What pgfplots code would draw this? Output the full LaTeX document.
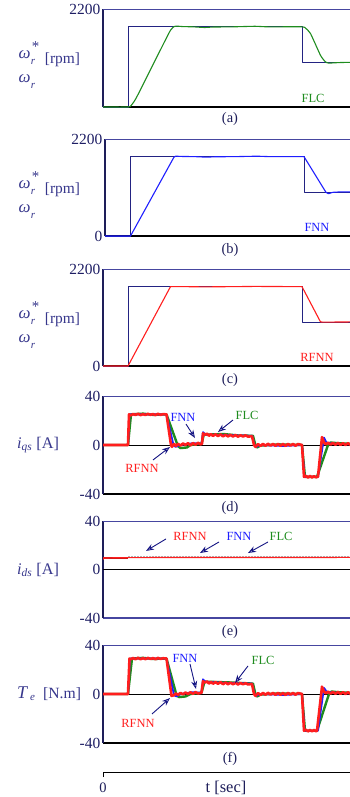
\documentclass[border=0pt]{standalone}
\usepackage{pgfplots}
\pgfplotsset{compat=1.18}
\usepackage{fontspec}
\setmainfont{Liberation Serif}
\usetikzlibrary{arrows.meta}
\definecolor{refnavy}{RGB}{35,35,130}
\definecolor{frametop}{RGB}{70,70,160}
\definecolor{ticknavy}{RGB}{30,30,100}
\definecolor{labnavy}{RGB}{55,55,140}
\definecolor{capnavy}{RGB}{30,30,90}
\definecolor{cgreen}{RGB}{30,140,30}
\definecolor{cblue}{RGB}{30,30,255}
\definecolor{cred}{RGB}{255,30,30}
\definecolor{arrnavy}{RGB}{20,20,130}
\pgfplotsset{
  panel/.style={scale only axis, width=250bp, height=98bp, xmin=0, xmax=5,
    axis x line*=bottom, axis y line*=left, xtick=\empty,
    major tick length=0pt, ytick style={draw=none},
    x axis line style={black, line width=1.3bp, -},
    y axis line style={capnavy, line width=1.3bp, -},
    tick label style={font=\fontsize{15.5}{15.5}\selectfont, text=ticknavy},
    yticklabel style={inner sep=2.5bp},
    /pgf/number format/assume math mode=true,
    /pgf/number format/1000 sep={},
    every axis plot/.append style={line join=round},
  },
}
\tikzset{
  ann/.style={font=\fontsize{12.5}{12.5}\selectfont},
  arr/.style={arrnavy, line width=0.9bp, -{Stealth[length=8bp,width=6bp,open]}},
  lab/.style={text=labnavy, inner sep=0pt},
}
\newcommand{\toplinedraw}{\draw[frametop, line width=1bp] (rel axis cs:0,1) -- (rel axis cs:1,1);}
\begin{document}
\begin{tikzpicture}
\useasboundingbox (0,0) rectangle (350bp,-797bp);
% ---------- (a)
\begin{axis}[panel, at={(103bp,-9bp)}, anchor=north west, ymin=0, ymax=2200, ytick={2200}]
\toplinedraw
\addplot[refnavy, line width=0.8bp] coordinates {(0,0)(0.5,0)(0.5,1800)(3.98,1800)(3.98,1000)(5,1000)};
\addplot[cgreen, line width=1.1bp, smooth, tension=0.3] coordinates {(0,0)(0.5,0)(0.56,30)(0.62,120)(0.7,280)(1.3,1620)(1.37,1750)(1.42,1805)(1.48,1815)(1.6,1805)(1.8,1800)(2.03,1785)(2.2,1795)(2.6,1800)(3.04,1812)(3.3,1800)(3.98,1800)(4.05,1770)(4.15,1650)(4.35,1160)(4.45,1010)(4.52,985)(4.62,992)(4.8,1000)(5,1000)};
\node[ann, text=cgreen] at (axis cs:4.2,200) {FLC};
\end{axis}
% ---------- (b)
\begin{axis}[panel, at={(105bp,-139bp)}, anchor=north west, height=97bp, ymin=0, ymax=2200, ytick={0,2200}]
\toplinedraw
\addplot[refnavy, line width=0.8bp] coordinates {(0,0)(0.51,0)(0.51,1800)(3.98,1800)(3.98,1000)(5,1000)};
\addplot[cblue, line width=1.1bp] coordinates {(0,0)(0.51,0)(1.38,1790)(1.42,1812)(1.5,1805)(1.8,1800)(2.03,1788)(2.2,1797)(2.6,1800)(3.04,1810)(3.3,1800)(3.98,1800)(4.42,990)(4.47,960)(4.55,990)(4.7,1000)(5,1000)};
\node[ann, text=cblue] at (axis cs:4.24,200) {FNN};
\end{axis}
% ---------- (c)
\begin{axis}[panel, at={(103bp,-269bp)}, anchor=north west, height=97bp, ymin=0, ymax=2200, ytick={0,2200}]
\toplinedraw
\addplot[refnavy, line width=0.8bp] coordinates {(0,0)(0.5,0)(0.5,1800)(3.98,1800)(3.98,1000)(5,1000)};
\addplot[cred, line width=1.1bp] coordinates {(0,0)(0.5,0)(1.35,1800)(1.6,1800)(2.03,1795)(2.6,1800)(3.04,1805)(3.98,1800)(4.35,1000)(4.4,995)(5,1000)};
\node[ann, text=cred] at (axis cs:4.28,200) {RFNN};
\end{axis}
% ---------- (d)
\begin{axis}[panel, at={(103bp,-396bp)}, anchor=north west, ymin=-40, ymax=40, ytick={-40,0,40}]
\toplinedraw
\addplot[black, line width=1bp] coordinates {(0,0)(5,0)};
\addplot[cgreen, line width=2.4bp] coordinates {(0,0)(0.5,0)(0.56,25)(0.8,25.6)(1.0,24.6)(1.27,25)(1.5,-1)(1.55,-2.5)(1.68,-2)(1.75,0)(1.97,1)(2.02,9)(2.1,8.5)(2.4,9)(2.7,7.8)(3.0,7.5)(3.05,-0.5)(3.08,-2)(3.15,-0.5)(3.5,0.5)(3.98,0)(4.04,-26)(4.28,-26)(4.5,0)(4.55,2)(4.7,1.5)(5,0.8)};
\addplot[cblue, line width=1.8bp] coordinates {(0,0)(0.5,0)(0.53,25)(1.27,25)(1.41,0)(1.45,-1.5)(1.55,0)(1.8,1.5)(1.97,1)(2.0,10.5)(2.05,8.5)(2.5,8)(2.98,7.5)(3.03,0)(3.06,-1.5)(3.15,0)(3.6,-0.8)(3.98,0)(4.03,-26)(4.3,-26)(4.42,6)(4.47,2)(4.6,1)(5,0.5)};
\addplot[cred, line width=2.6bp] coordinates {(0,0)(0.5,0)(0.52,25)(0.56,24.2)(0.6,25.3)(0.65,24.5)(0.7,25.6)(0.75,24.4)(0.8,25.2)(0.85,24.5)(0.9,25.5)(0.95,24.6)(1.0,25.3)(1.05,24.4)(1.1,25.5)(1.15,24.6)(1.2,25.2)(1.27,25)(1.36,0)(1.38,-1.5)(1.42,0.8)(1.46,-0.8)(1.5,1)(1.55,-0.5)(1.6,1.3)(1.65,0)(1.7,1.5)(1.75,-0.3)(1.8,1.6)(1.85,0.2)(1.9,1.8)(1.95,0.5)(1.98,1)(2.0,9.5)(2.04,8.3)(2.08,9.3)(2.12,7.5)(2.16,8.9)(2.2,7.4)(2.25,8.8)(2.3,7.3)(2.35,8.7)(2.4,7)(2.45,8.4)(2.5,7)(2.55,8.3)(2.6,6.9)(2.65,8.2)(2.7,6.8)(2.75,8)(2.8,6.9)(2.85,7.9)(2.9,6.8)(2.98,7.2)(3.02,0)(3.05,-1.5)(3.1,0.8)(3.15,-0.8)(3.2,0.9)(3.25,-0.6)(3.3,1)(3.35,-0.5)(3.4,0.9)(3.45,-0.7)(3.5,1)(3.55,-0.6)(3.6,0.8)(3.65,-0.8)(3.7,0.9)(3.75,-0.5)(3.8,0.9)(3.85,-0.6)(3.9,0.8)(3.98,0)(4.02,-26)(4.06,-25.2)(4.1,-26.6)(4.14,-25.3)(4.18,-26.5)(4.22,-25.4)(4.26,-26.4)(4.3,-25.8)(4.38,6.5)(4.42,2)(4.46,0.5)(4.5,2)(4.55,0.3)(4.6,1.8)(4.65,0.2)(4.7,1.7)(4.75,0.1)(4.8,1.5)(4.85,0)(4.9,1.4)(4.95,0)(5,1)};
\node[ann, text=cblue] at (axis cs:1.6,22.9) {FNN};
\draw[arr] (axis cs:1.66,17.1) -- (axis cs:1.84,5.7);
\node[ann, text=cgreen] at (axis cs:2.88,24.5) {FLC};
\draw[arr] (axis cs:2.6,20.4) -- (axis cs:2.3,10.6);
\node[ann, text=cred] at (axis cs:0.78,-18.8) {RFNN};
\draw[arr] (axis cs:1.0,-12.2) -- (axis cs:1.34,-1.6);
\end{axis}
% ---------- (e)
\begin{axis}[panel, at={(103bp,-521bp)}, anchor=north west, height=97bp, ymin=-40, ymax=40, ytick={-40,0,40}, x axis line style={draw=frametop}]
\toplinedraw
\addplot[black, line width=1bp] coordinates {(0,0)(5,0)};
\addplot[gray!60, line width=2bp, densely dotted] coordinates {(0.5,10.4)(5,10.4)};
\addplot[cred!75!black, line width=1.6bp] coordinates {(0,9.5)(0.5,9.5)};
\addplot[cred, line width=1.2bp] coordinates {(0,8)(0,9.5)(0.5,9.8)(5,10)};
\node[ann, text=cred] at (axis cs:1.74,27.6) {RFNN};
\draw[arr] (axis cs:1.26,25.2) -- (axis cs:0.86,15.3);
\node[ann, text=cblue] at (axis cs:2.72,27.6) {FNN};
\draw[arr] (axis cs:2.32,22.7) -- (axis cs:1.94,13.6);
\node[ann, text=cgreen] at (axis cs:3.56,27.6) {FLC};
\draw[arr] (axis cs:3.3,22.7) -- (axis cs:2.9,13.6);
\end{axis}
% ---------- (f)
\begin{axis}[panel, at={(103bp,-645bp)}, anchor=north west, ymin=-40, ymax=40, ytick={-40,0,40}]
\toplinedraw
\addplot[black, line width=1bp] coordinates {(0,0)(5,0)};
\addplot[cgreen, line width=2.4bp] coordinates {(0,0)(0.5,0)(0.58,29)(0.8,29.5)(1.0,28.6)(1.27,29)(1.47,-1)(1.52,-2.5)(1.65,-2)(1.75,0)(1.97,1)(2.03,10)(2.1,10)(2.5,9.5)(3.0,8.5)(3.05,-0.5)(3.08,-2)(3.15,-0.5)(3.5,0.5)(3.98,0)(4.04,-30)(4.28,-30)(4.52,0)(4.57,2)(4.7,1.5)(5,0.8)};
\addplot[cblue, line width=1.8bp] coordinates {(0,0)(0.5,0)(0.54,29)(1.27,29)(1.42,-1)(1.47,-2)(1.55,0)(1.8,1.5)(1.97,1)(2.0,12)(2.05,10)(2.5,9)(2.98,8.5)(3.03,0)(3.06,-1.5)(3.15,0)(3.6,-0.8)(3.98,0)(4.03,-30)(4.3,-30)(4.42,5)(4.47,2)(4.6,1)(5,0.5)};
\addplot[cred, line width=2.6bp] coordinates {(0,0)(0.5,0)(0.53,29)(0.56,28.3)(0.6,29.4)(0.65,28.4)(0.7,29.6)(0.75,28.4)(0.8,29.3)(0.85,28.5)(0.9,29.5)(0.95,28.6)(1.0,29.3)(1.05,28.4)(1.1,29.5)(1.15,28.6)(1.2,29.2)(1.27,29)(1.37,-1.5)(1.42,-1)(1.46,0.5)(1.5,-0.6)(1.55,0.9)(1.6,-0.3)(1.65,1.2)(1.7,0)(1.75,1.4)(1.8,0.2)(1.85,1.6)(1.9,0.4)(1.97,1)(2.0,10.5)(2.04,9.3)(2.08,10.3)(2.12,8.5)(2.16,9.9)(2.2,8.4)(2.25,9.8)(2.3,8.3)(2.35,9.7)(2.4,8)(2.45,9.4)(2.5,8)(2.55,9.3)(2.6,7.9)(2.65,9.2)(2.7,7.8)(2.75,9)(2.8,7.9)(2.85,8.9)(2.9,7.8)(2.98,8.2)(3.02,0)(3.05,-1.5)(3.1,0.8)(3.15,-0.8)(3.2,0.9)(3.25,-0.6)(3.3,1)(3.35,-0.5)(3.4,0.9)(3.45,-0.7)(3.5,1)(3.55,-0.6)(3.6,0.8)(3.65,-0.8)(3.7,0.9)(3.75,-0.5)(3.8,0.9)(3.85,-0.6)(3.9,0.8)(3.98,0)(4.02,-30)(4.06,-29.2)(4.1,-30.6)(4.14,-29.3)(4.18,-30.5)(4.22,-29.4)(4.26,-30.4)(4.28,-30)(4.38,6)(4.42,2)(4.46,0.5)(4.5,2)(4.55,0.3)(4.6,1.8)(4.65,0.2)(4.7,1.7)(4.75,0.1)(4.8,1.5)(4.85,0)(4.9,1.4)(4.95,0)(5,1)};
\node[ann, text=cblue] at (axis cs:1.64,29.4) {FNN};
\draw[arr] (axis cs:1.74,24.5) -- (axis cs:1.86,4.1);
\node[ann, text=cgreen] at (axis cs:3.2,27.8) {FLC};
\draw[arr] (axis cs:2.9,22.9) -- (axis cs:2.64,9.0);
\node[ann, text=cred] at (axis cs:0.7,-23.7) {RFNN};
\draw[arr] (axis cs:0.98,-16.3) -- (axis cs:1.34,-3.3);
\end{axis}
% ---------- y labels
\foreach \t in {9,139,269}{
  \node[lab, font=\fontsize{17}{17}\selectfont\itshape] at (24.5bp,-\t bp-46bp) {ω};
  \node[lab, font=\fontsize{15}{15}\selectfont] at (35.5bp,-\t bp-38bp) {*};
  \node[lab, font=\fontsize{11}{11}\selectfont\itshape] at (33bp,-\t bp-53bp) {r};
  \node[lab, font=\fontsize{15.5}{15.5}\selectfont] at (62.5bp,-\t bp-51bp) {[rpm]};
  \node[lab, font=\fontsize{17}{17}\selectfont\itshape] at (24.5bp,-\t bp-70bp) {ω};
  \node[lab, font=\fontsize{11}{11}\selectfont\itshape] at (33bp,-\t bp-77bp) {r};
}
\node[lab, font=\fontsize{16.3}{16.3}\selectfont, anchor=west] at (17bp,-445bp) {\textit{i}\textsubscript{\textit{qs}} [A]};
\node[lab, font=\fontsize{16.3}{16.3}\selectfont, anchor=west] at (17bp,-570bp) {\textit{i}\textsubscript{\textit{ds}} [A]};
\node[lab, font=\fontsize{15.7}{15.7}\selectfont, anchor=west] at (17bp,-694bp) {{\fontsize{18}{18}\selectfont\textit{T}}\textsubscript{\,\textit{e}}\ \ [N.m]};
% ---------- captions
\foreach \y/\c in {119/a,250/b,380/c,508/d,632/e,759/f}{
  \node[text=capnavy, font=\fontsize{14.5}{14.5}\selectfont] at (230bp,-\y bp) {(\c)};
}
% ---------- time axis
\draw[black, line width=1bp] (103bp,-777bp) -- (103bp,-772bp) -- (360bp,-772bp);
\node[text=capnavy, font=\fontsize{14.5}{14.5}\selectfont] at (103bp,-788bp) {0};
\node[text=capnavy, font=\fontsize{16.5}{16.5}\selectfont] at (226bp,-788bp) {t [sec]};
\end{tikzpicture}
\end{document}
